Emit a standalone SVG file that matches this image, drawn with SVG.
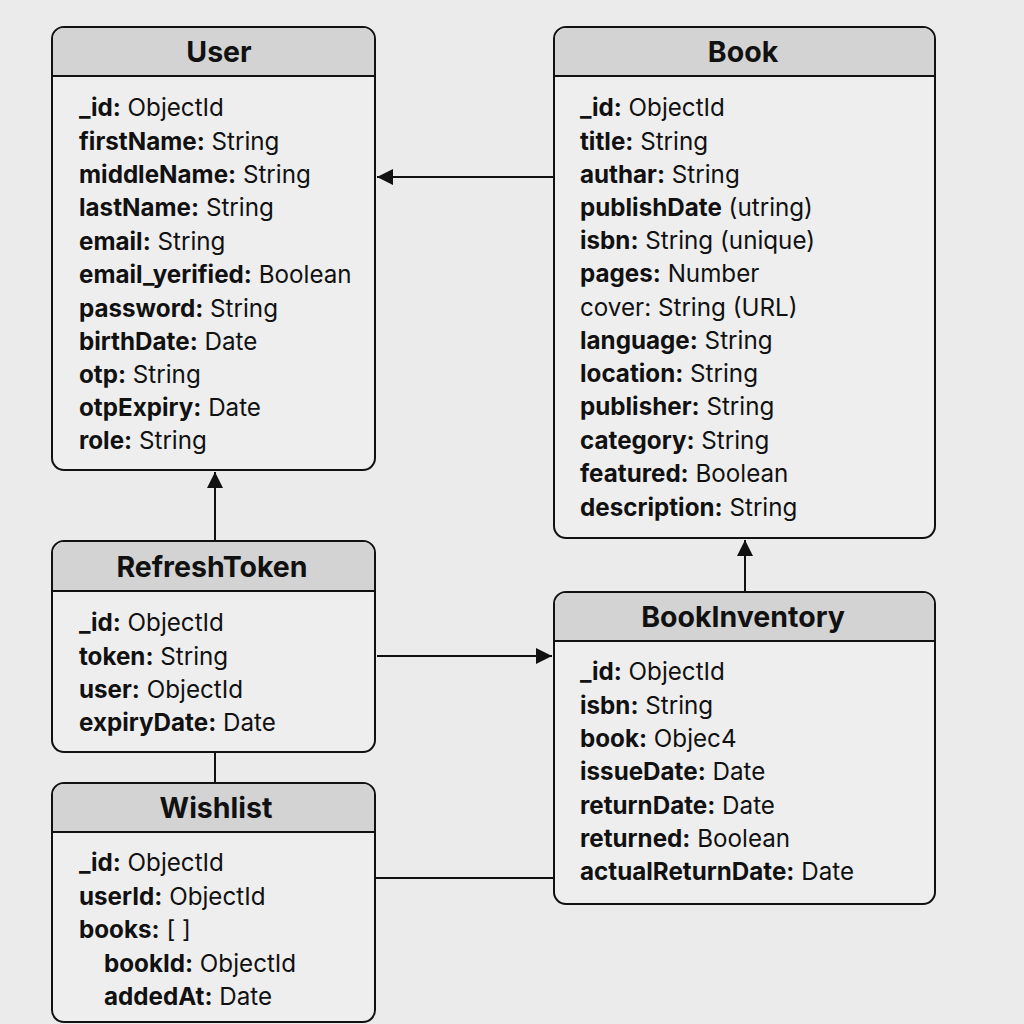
<svg xmlns="http://www.w3.org/2000/svg" width="1024" height="1024" viewBox="0 0 1024 1024">
<defs>
<style>
.bg{fill:#ebebeb}
.box{fill:#eeeeee;stroke:#111;stroke-width:2}
.hdr{fill:#d3d3d3}
.div{stroke:#111;stroke-width:2}
.title{font-family:Inter,"Liberation Sans",sans-serif;font-size:28.5px;font-weight:700;fill:#111;text-anchor:middle}
.f{font-family:Inter,"Liberation Sans",sans-serif;font-size:24.2px;fill:#111}
.f tspan.b{font-weight:700}
.c{stroke:#111;stroke-width:2;fill:none}
</style>
<marker id="ah" viewBox="0 0 10 10" refX="10" refY="5" markerWidth="16" markerHeight="16" markerUnits="userSpaceOnUse" orient="auto">
<path d="M0,0 L10,5 L0,10 Z" fill="#111"/>
</marker>
</defs>
<rect class="bg" x="0" y="0" width="1024" height="1024"/>

<g id="connectors">
<line class="c" x1="553" y1="177" x2="377" y2="177" marker-end="url(#ah)"/>
<line class="c" x1="215" y1="541" x2="215" y2="472" marker-end="url(#ah)"/>
<line class="c" x1="377" y1="656" x2="552" y2="656" marker-end="url(#ah)"/>
<line class="c" x1="745" y1="592" x2="745" y2="540" marker-end="url(#ah)"/>
<line class="c" x1="215" y1="752" x2="215" y2="783"/>
<line class="c" x1="376" y1="878" x2="554" y2="878"/>
</g>

<g id="user">
<rect class="box" x="52" y="27" width="323" height="443" rx="12"/>
<path class="hdr" d="M64,28 H363 A11,11 0 0 1 374,39 V76 H53 V39 A11,11 0 0 1 64,28 Z"/>
<line class="div" x1="52" y1="76" x2="375" y2="76"/>
<text class="title" x="219" y="62">User</text>
<text class="f" x="79" y="116"><tspan class="b">_id:</tspan> ObjectId</text>
<text class="f" x="79" y="150"><tspan class="b">firstName:</tspan> String</text>
<text class="f" x="79" y="183"><tspan class="b">middleName:</tspan> String</text>
<text class="f" x="79" y="216"><tspan class="b">lastName:</tspan> String</text>
<text class="f" x="79" y="250"><tspan class="b">email:</tspan> String</text>
<text class="f" x="79" y="283"><tspan class="b">email_yerified:</tspan> Boolean</text>
<text class="f" x="79" y="317"><tspan class="b">password:</tspan> String</text>
<text class="f" x="79" y="350"><tspan class="b">birthDate:</tspan> Date</text>
<text class="f" x="79" y="383"><tspan class="b">otp:</tspan> String</text>
<text class="f" x="79" y="416"><tspan class="b">otpExpiry:</tspan> Date</text>
<text class="f" x="79" y="449"><tspan class="b">role:</tspan> String</text>
</g>

<g id="book">
<rect class="box" x="554" y="27" width="381" height="511" rx="12"/>
<path class="hdr" d="M566,28 H923 A11,11 0 0 1 934,39 V76 H555 V39 A11,11 0 0 1 566,28 Z"/>
<line class="div" x1="554" y1="76" x2="935" y2="76"/>
<text class="title" x="743" y="62">Book</text>
<text class="f" x="580" y="116"><tspan class="b">_id:</tspan> ObjectId</text>
<text class="f" x="580" y="150"><tspan class="b">title:</tspan> String</text>
<text class="f" x="580" y="183"><tspan class="b">authar:</tspan> String</text>
<text class="f" x="580" y="216"><tspan class="b">publishDate</tspan> (utring)</text>
<text class="f" x="580" y="249"><tspan class="b">isbn:</tspan> String (unique)</text>
<text class="f" x="580" y="282"><tspan class="b">pages:</tspan> Number</text>
<text class="f" x="580" y="316">cover: String (URL)</text>
<text class="f" x="580" y="349"><tspan class="b">language:</tspan> String</text>
<text class="f" x="580" y="382"><tspan class="b">location:</tspan> String</text>
<text class="f" x="580" y="415"><tspan class="b">publisher:</tspan> String</text>
<text class="f" x="580" y="449"><tspan class="b">category:</tspan> String</text>
<text class="f" x="580" y="482"><tspan class="b">featured:</tspan> Boolean</text>
<text class="f" x="580" y="516"><tspan class="b">description:</tspan> String</text>
</g>

<g id="refreshtoken">
<rect class="box" x="52" y="541" width="323" height="211" rx="12"/>
<path class="hdr" d="M64,542 H363 A11,11 0 0 1 374,553 V591 H53 V553 A11,11 0 0 1 64,542 Z"/>
<line class="div" x1="52" y1="591" x2="375" y2="591"/>
<text class="title" x="212" y="577">RefreshToken</text>
<text class="f" x="79" y="631"><tspan class="b">_id:</tspan> ObjectId</text>
<text class="f" x="79" y="665"><tspan class="b">token:</tspan> String</text>
<text class="f" x="79" y="698"><tspan class="b">user:</tspan> ObjectId</text>
<text class="f" x="79" y="731"><tspan class="b">expiryDate:</tspan> Date</text>
</g>

<g id="bookinventory">
<rect class="box" x="554" y="592" width="381" height="312" rx="12"/>
<path class="hdr" d="M566,593 H923 A11,11 0 0 1 934,604 V641 H555 V604 A11,11 0 0 1 566,593 Z"/>
<line class="div" x1="554" y1="641" x2="935" y2="641"/>
<text class="title" x="743" y="627">BookInventory</text>
<text class="f" x="580" y="680"><tspan class="b">_id:</tspan> ObjectId</text>
<text class="f" x="580" y="714"><tspan class="b">isbn:</tspan> String</text>
<text class="f" x="580" y="747"><tspan class="b">book:</tspan> Objec4</text>
<text class="f" x="580" y="780"><tspan class="b">issueDate:</tspan> Date</text>
<text class="f" x="580" y="814"><tspan class="b">returnDate:</tspan> Date</text>
<text class="f" x="580" y="847"><tspan class="b">returned:</tspan> Boolean</text>
<text class="f" x="580" y="880"><tspan class="b">actualReturnDate:</tspan> Date</text>
</g>

<g id="wishlist">
<rect class="box" x="52" y="783" width="323" height="239" rx="12"/>
<path class="hdr" d="M64,784 H363 A11,11 0 0 1 374,795 V832 H53 V795 A11,11 0 0 1 64,784 Z"/>
<line class="div" x1="52" y1="832" x2="375" y2="832"/>
<text class="title" x="216" y="818">Wishlist</text>
<text class="f" x="79" y="871"><tspan class="b">_id:</tspan> ObjectId</text>
<text class="f" x="79" y="905"><tspan class="b">userId:</tspan> ObjectId</text>
<text class="f" x="79" y="938"><tspan class="b">books:</tspan> [ ]</text>
<text class="f" x="104" y="972"><tspan class="b">bookId:</tspan> ObjectId</text>
<text class="f" x="104" y="1005"><tspan class="b">addedAt:</tspan> Date</text>
</g>
</svg>
